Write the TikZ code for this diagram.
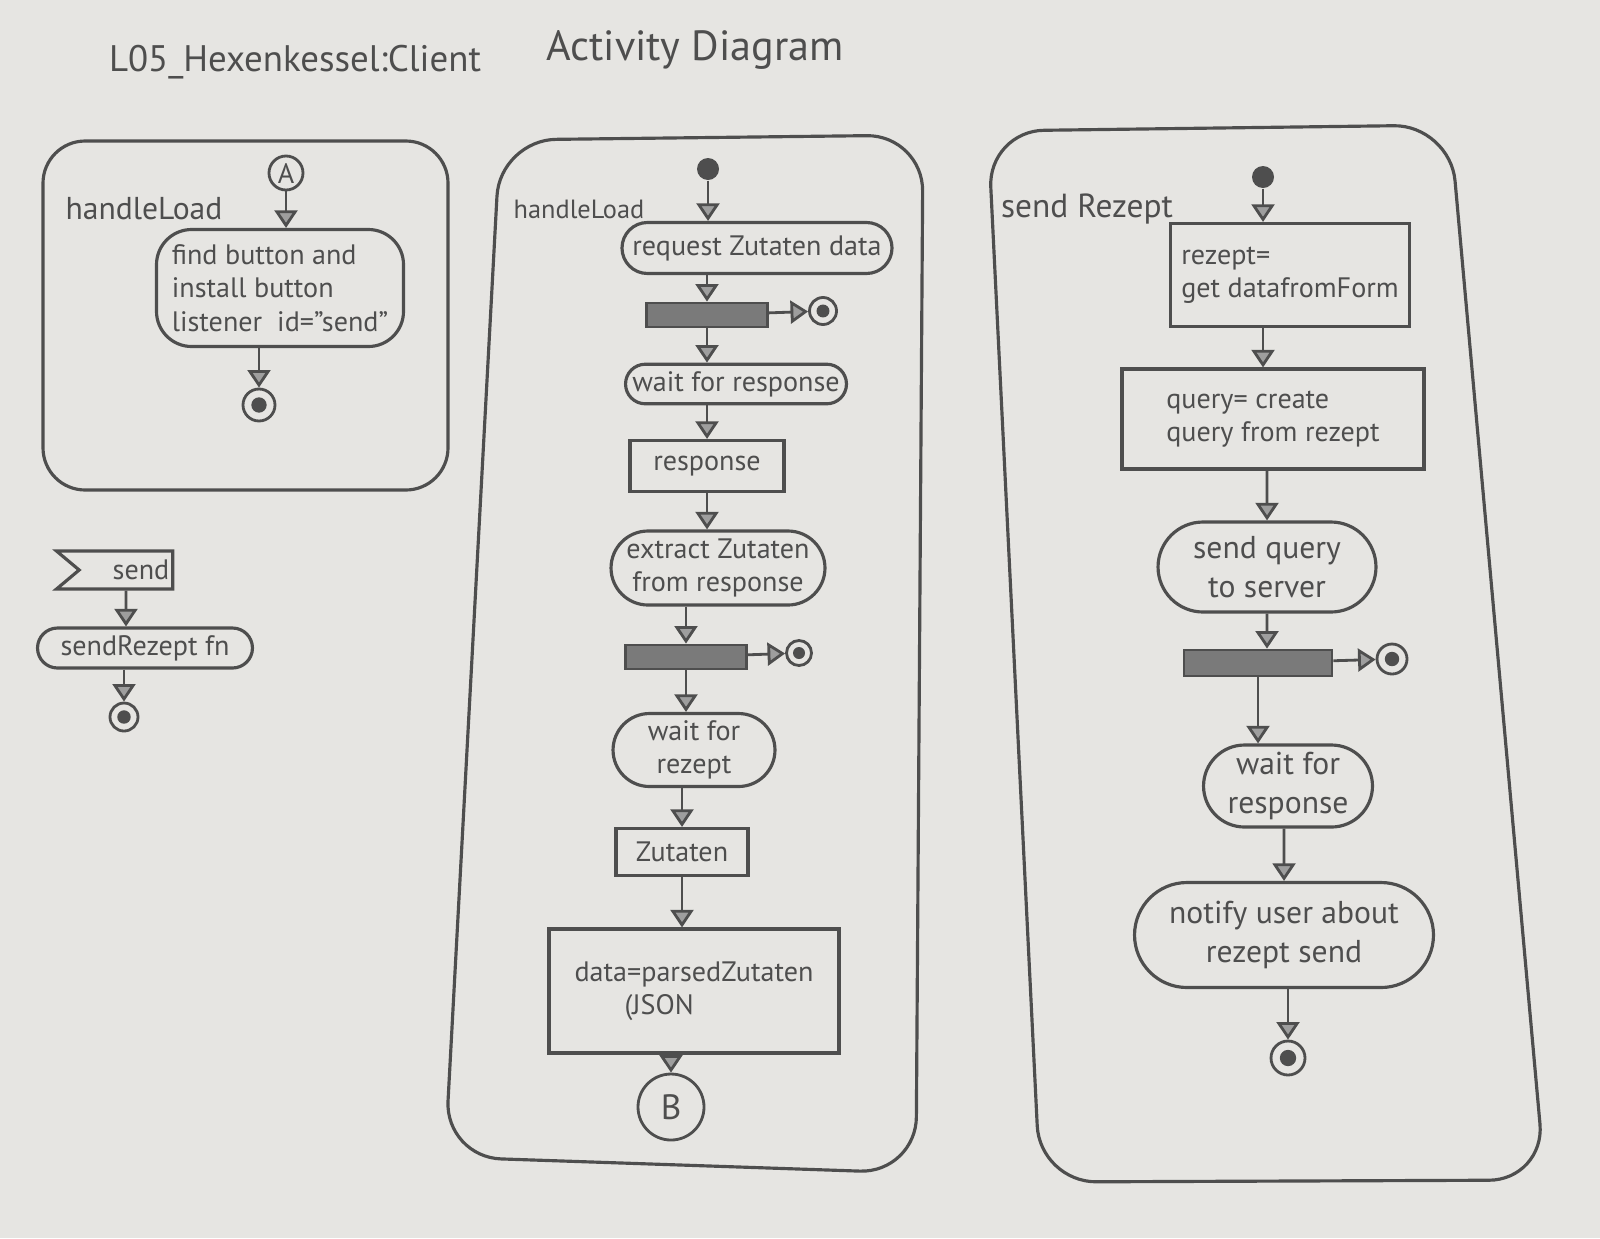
\documentclass[tikz,border=0pt]{standalone}
\usepackage{fontspec}
\setmainfont{PT Sans}
\usetikzlibrary{arrows.meta,shapes.misc,shapes.symbols}
\usepackage{xcolor}
\definecolor{Pencil}{HTML}{4E4E4E}
\definecolor{Paper}{HTML}{E6E5E2}

\begin{document}
\begin{tikzpicture}[font=\fontsize{8}{9.5}\selectfont,
    every node/.style={text=Pencil},
    frame/.style={draw=Pencil,line width=0.9pt,rounded corners=12pt},
    action/.style={draw=Pencil,line width=0.9pt,rounded rectangle,align=center,inner sep=2pt},
    objbox/.style={draw=Pencil,line width=0.9pt,align=left,inner sep=3pt},
    forkbar/.style={draw=Pencil,fill=Pencil!75,line width=0.8pt,minimum height=0.24cm,inner sep=0pt},
    startnode/.style={circle,fill=Pencil,minimum size=0.22cm,inner sep=0pt},
    endnode/.style={circle,draw=Pencil,line width=0.8pt,minimum size=#1,inner sep=0pt,
      path picture={\fill[Pencil] (path picture bounding box.center) circle (0.24*#1);}},
    endnode/.default=0.3cm,
    conn/.style={circle,draw=Pencil,line width=0.8pt,inner sep=0pt},
    flow/.style={draw=Pencil,line width=0.8pt,-{Triangle[length=5pt,width=6.5pt,fill=Pencil!55]}}]
    \fill[Paper] (0,0) rectangle (16,-12.38);
    \useasboundingbox (0,0) rectangle (16,-12.38);

    \node[font=\fontsize{10.5}{12}\selectfont] (title) at (2.95,-0.62) {L05\_Hexenkessel:Client};
    \node[font=\fontsize{12}{14}\selectfont] (subtitle) at (6.95,-0.50) {Activity Diagram};

    % handleLoad (A)
    \draw[frame] (0.43,-1.41) rectangle (4.48,-4.90);
    \node[font=\fontsize{9}{11}\selectfont] (lbl1) at (1.44,-2.09) {handleLoad};
    \node[conn,minimum size=0.34cm] (connA) at (2.86,-1.73) {A};
    \node[draw=Pencil,line width=0.9pt,rounded corners=10pt,align=left,
          minimum width=2.47cm,minimum height=1.17cm] (find) at (2.80,-2.88)
      {find button and\\install button\\listener~~id="send"};
    \node[endnode=0.32cm] (end1) at (2.59,-4.05) {};
    \draw[flow] (connA) -- (connA |- find.north);
    \draw[flow] (find.south -| end1) -- (end1);

    % send event
    \node[draw=Pencil,line width=0.9pt,signal,signal from=west,signal to=nowhere,
          signal pointer angle=80,minimum width=1.11cm,minimum height=0.38cm,
          inner sep=1pt,text depth=0pt] (sig) at (1.26,-5.70) {\hspace{3mm}send};
    \node[action,minimum width=2.29cm,minimum height=0.40cm] (fn) at (1.45,-6.48) {sendRezept fn};
    \node[endnode=0.28cm] (end2) at (1.24,-7.17) {};
    \draw[flow] (sig) -- (sig |- fn.north);
    \draw[flow] (fn.south -| end2) -- (end2);

    % handleLoad (B)
    \draw[frame,rounded corners=16pt] (5.00,-1.40) -- (9.23,-1.35) -- (9.16,-11.73) -- (4.45,-11.57) -- cycle;
    \node[font=\fontsize{7.5}{9}\selectfont] (lbl2) at (5.79,-2.09) {handleLoad};
    \node[startnode] (start2) at (7.08,-1.69) {};
    \node[action,minimum width=2.66cm,minimum height=0.51cm] (req) at (7.57,-2.48) {request Zutaten data};
    \node[forkbar,minimum width=1.21cm] (bar1) at (7.07,-3.15) {};
    \node[endnode=0.27cm] (fin1) at (8.23,-3.11) {};
    \node[action,minimum width=2.35cm,minimum height=0.38cm] (wresp) at (7.36,-3.84) {wait for response};
    \node[objbox,align=center,minimum width=1.54cm,minimum height=0.51cm] (resp) at (7.07,-4.66) {response};
    \node[action,minimum width=2.28cm,minimum height=0.74cm] (extr) at (7.18,-5.68) {extract Zutaten\\from response};
    \node[forkbar,minimum width=1.21cm] (bar2) at (6.86,-6.57) {};
    \node[endnode=0.25cm] (fin2) at (7.99,-6.53) {};
    \node[action,minimum width=1.76cm,minimum height=0.72cm] (wrz) at (6.94,-7.50) {wait for\\rezept};
    \node[objbox,align=center,minimum width=1.32cm,minimum height=0.47cm] (zut) at (6.82,-8.52) {Zutaten};
    \node[objbox,minimum width=2.90cm,minimum height=1.24cm] (data) at (6.94,-9.91) {data=parsedZutaten\\\hspace{5mm}(JSON};
    \node[conn,minimum size=0.66cm,font=\fontsize{10}{12}\selectfont] (connB) at (6.71,-11.07) {B};
    \draw[flow] (start2) -- (start2 |- req.north);
    \draw[flow] (req.south -| bar1) -- (bar1);
    \draw[flow] (bar1) -- (fin1);
    \draw[flow] (bar1) -- (bar1 |- wresp.north);
    \draw[flow] (wresp.south -| resp) -- (resp);
    \draw[flow] (resp) -- (resp |- extr.north);
    \draw[flow] (extr.south -| bar2) -- (bar2);
    \draw[flow] (bar2) -- (fin2);
    \draw[flow] (bar2) -- (bar2 |- wrz.north);
    \draw[flow] (wrz.south -| zut) -- (zut);
    \draw[flow] (zut) -- (zut |- data.north);
    \draw[flow] (data.south -| connB) -- (connB);

    % sendRezept
    \draw[frame,rounded corners=16pt] (9.88,-1.31) -- (14.50,-1.25) -- (15.45,-11.80) -- (10.40,-11.82) -- cycle;
    \node[font=\fontsize{9.5}{11}\selectfont] (lbl3) at (10.87,-2.09) {send Rezept};
    \node[startnode] (start3) at (12.63,-1.77) {};
    \node[objbox,minimum width=2.39cm,minimum height=1.03cm] (rz) at (12.90,-2.75) {rezept=\\get datafromForm};
    \node[objbox,minimum width=3.02cm,minimum height=1.00cm] (qu) at (12.73,-4.19) {query= create\\query from rezept};
    \node[action,minimum width=2.32cm,minimum height=0.90cm,font=\fontsize{9}{11}\selectfont] (sq) at (12.67,-5.67) {send query\\to server};
    \node[forkbar,minimum width=1.48cm,minimum height=0.26cm] (bar3) at (12.58,-6.63) {};
    \node[endnode=0.30cm] (fin3) at (13.92,-6.59) {};
    \node[action,minimum width=1.83cm,minimum height=0.82cm,font=\fontsize{9}{11}\selectfont] (wr2) at (12.88,-7.86) {wait for\\response};
    \node[action,minimum width=3.13cm,minimum height=1.05cm,font=\fontsize{9}{11}\selectfont] (nt) at (12.84,-9.35) {notify user about\\rezept send};
    \node[endnode=0.34cm] (end3) at (12.88,-10.58) {};
    \draw[flow] (start3) -- (start3 |- rz.north);
    \draw[flow] (rz.south -| start3) -- (start3 |- qu.north);
    \draw[flow] (qu.south -| sq) -- (sq);
    \draw[flow] (sq) -- (sq |- bar3.north);
    \draw[flow] (bar3) -- (fin3);
    \draw[flow] (bar3) -- (bar3 |- wr2.north);
    \draw[flow] (wr2.south -| nt) -- (nt);
    \draw[flow] (nt.south -| end3) -- (end3);
\end{tikzpicture}
\end{document}
